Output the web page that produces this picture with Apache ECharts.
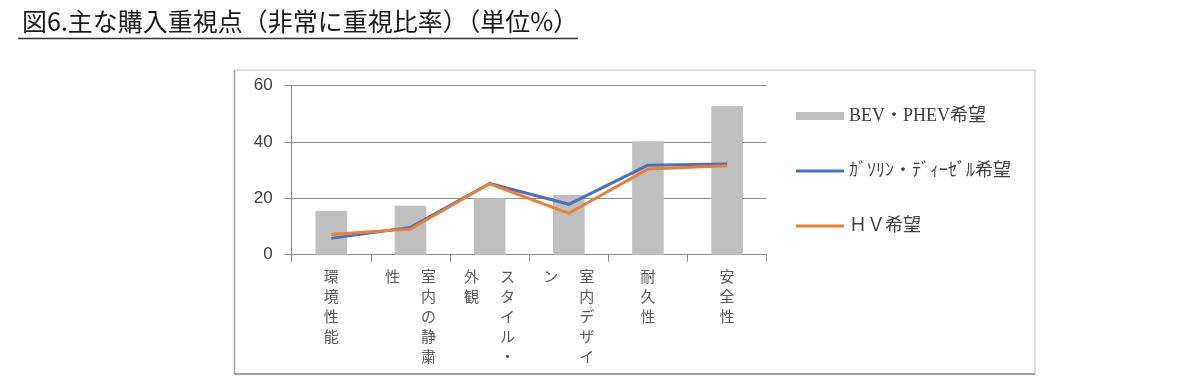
<!DOCTYPE html>
<html>
<head>
<meta charset="utf-8">
<script src="https://cdn.jsdelivr.net/npm/echarts@6/dist/echarts.min.js"></script>
<style>
html,body{margin:0;padding:0;background:#fff;}
#chart{width:1180px;height:386px;}
</style>
</head>
<body>
<div id="chart"></div>
<script>
// Data
var titleText = '図6.主な購入重視点（非常に重視比率）（単位%）';
var categories = ['環境性能', '室内の静粛性', 'スタイル・外観', '室内デザイン', '耐久性', '安全性'];
var seriesNames = ['BEV・PHEV希望', 'ｶﾞｿﾘﾝ・ﾃﾞｨｰｾﾞﾙ希望', 'ＨＶ希望'];
var bevPhev = [15.6, 17.4, 20.0, 21.2, 40.3, 52.8];
var gasolineDiesel = [5.8, 9.7, 25.3, 17.9, 31.8, 32.2];
var hv = [7.2, 9.1, 25.2, 14.7, 30.4, 31.6];
var yTicks = {min: 0, max: 60, interval: 20};

var chart = echarts.init(document.getElementById('chart'), null, {renderer: 'canvas'});

// vertical (tategaki) label: columns of max 5 chars, first column on the right
function verticalLabel(s) {
  var chars = Array.from(s);
  var cols = [];
  for (var i = 0; i < chars.length; i += 5) cols.push(chars.slice(i, i + 5));
  var rows = cols[0].length;
  var lines = [];
  for (var r = 0; r < rows; r++) {
    var line = '';
    for (var c = cols.length - 1; c >= 0; c--) {
      var ch = cols[c][r] || '　';
      line += '{c|' + ch + '}';
    }
    lines.push(line);
  }
  return lines.join('\n');
}

var lineIcon = 'path://M0,0H50V3H0Z';

var option = {
  backgroundColor: '#ffffff',
  animation: false,
  title: {
    text: titleText,
    left: 17,
    top: 4,
    textStyle: {
      fontFamily: '"Noto Sans CJK JP", "Noto Sans", sans-serif',
      fontSize: 25,
      fontWeight: 'normal',
      color: '#1a1a1a'
    }
  },
  graphic: [
    {type: 'line', shape: {x1: 18, y1: 38.5, x2: 578, y2: 38.5}, style: {stroke: '#333', lineWidth: 1.5}, silent: true},
    {type: 'rect', shape: {x: 234.5, y: 70, width: 800.5, height: 304}, style: {fill: 'none', stroke: '#d4d4d4', lineWidth: 1.5}, silent: true, z: -1},
    {type: 'line', shape: {x1: 234.5, y1: 70, x2: 234.5, y2: 374}, style: {stroke: '#a6a6a6', lineWidth: 1.5}, silent: true},
    {type: 'line', shape: {x1: 234.5, y1: 374, x2: 1035, y2: 374}, style: {stroke: '#8c8c8c', lineWidth: 1.5}, silent: true}
  ],
  legend: {
    orient: 'vertical',
    left: 791,
    top: 102,
    itemWidth: 48,
    itemHeight: 8,
    itemGap: 37,
    symbolKeepAspect: true,
    data: [
      {name: seriesNames[0], icon: 'rect'},
      {name: seriesNames[1], icon: lineIcon},
      {name: seriesNames[2], icon: lineIcon}
    ],
    textStyle: {
      fontFamily: '"Liberation Serif", "Noto Sans CJK JP", serif',
      fontSize: 18,
      color: '#404040'
    }
  },
  grid: {
    left: 291.7,
    top: 85.7,
    right: 413.3,
    bottom: 131.3,
    containLabel: false
  },
  xAxis: {
    type: 'category',
    data: categories,
    boundaryGap: true,
    axisLine: {show: true, lineStyle: {color: '#8c8c8c', width: 1}},
    axisTick: {show: true, length: 7, alignWithLabel: false, lineStyle: {color: '#8c8c8c'}},
    axisLabel: {
      interval: 0,
      margin: 12,
      formatter: verticalLabel,
      rich: {
        c: {
          width: 36,
          align: 'center',
          fontSize: 15,
          lineHeight: 20,
          color: '#595959',
          fontFamily: '"Noto Sans CJK JP", sans-serif'
        }
      }
    },
    splitLine: {show: false}
  },
  yAxis: {
    type: 'value',
    min: yTicks.min,
    max: yTicks.max,
    interval: yTicks.interval,
    axisLine: {show: true, lineStyle: {color: '#8c8c8c', width: 1}},
    axisTick: {show: true, length: 7, lineStyle: {color: '#8c8c8c'}},
    axisLabel: {
      margin: 19,
      fontSize: 17,
      color: '#404040',
      fontFamily: '"Liberation Sans", Arial, sans-serif'
    },
    splitLine: {show: true, lineStyle: {color: '#8c8c8c', width: 1}}
  },
  series: [
    {
      name: seriesNames[0],
      type: 'bar',
      data: bevPhev,
      barWidth: '40%',
      itemStyle: {color: '#bfbfbf'},
      z: 1
    },
    {
      name: seriesNames[1],
      type: 'line',
      data: gasolineDiesel,
      symbol: 'none',
      lineStyle: {color: '#4472c4', width: 3},
      itemStyle: {color: '#4472c4'},
      z: 3
    },
    {
      name: seriesNames[2],
      type: 'line',
      data: hv,
      symbol: 'none',
      lineStyle: {color: '#ed7d31', width: 3},
      itemStyle: {color: '#ed7d31'},
      z: 4
    }
  ]
};
chart.setOption(option);
</script>
</body>
</html>
